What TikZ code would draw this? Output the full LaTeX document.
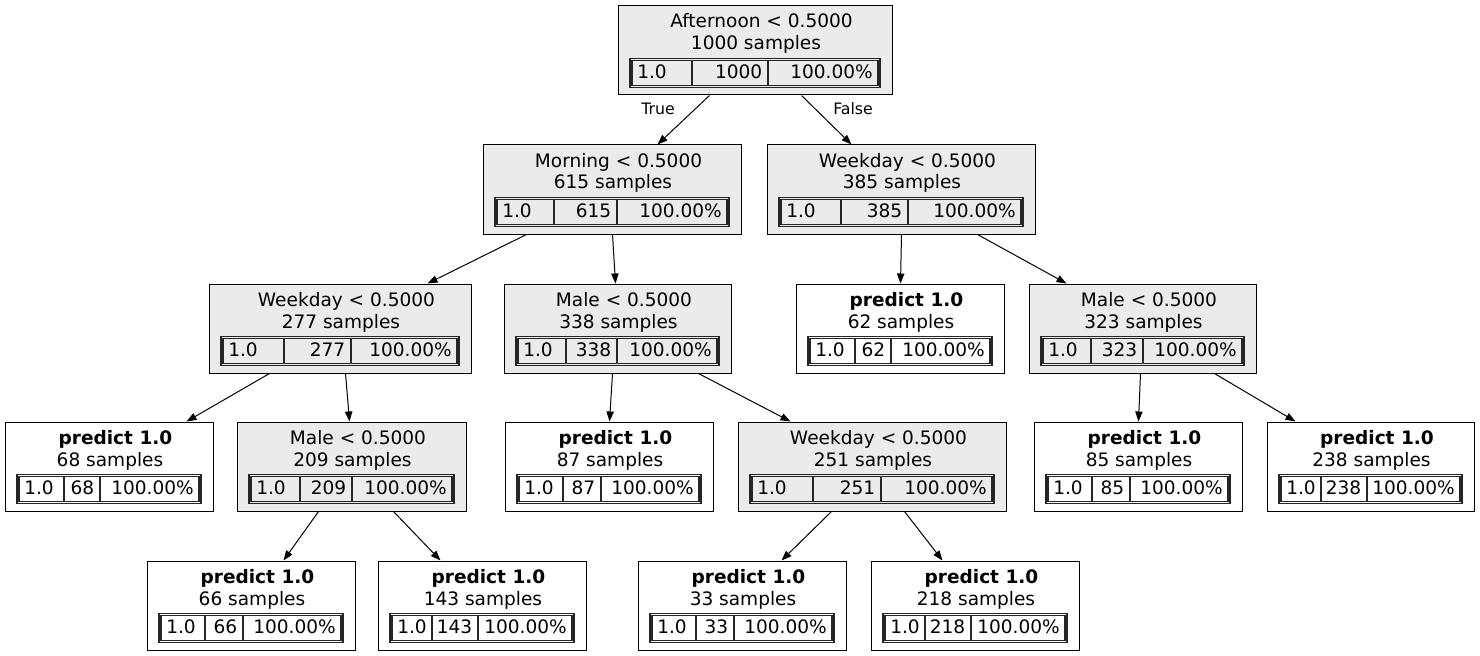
\documentclass[tikz,border=0pt]{standalone}
\usepackage{fontspec}
\setmainfont{DejaVu Sans}
\usetikzlibrary{arrows.meta,calc,fit}
\definecolor{splitfill}{RGB}{235,235,235}
\tikzset{
  x=0.75pt, y=-0.75pt,
  box/.style={draw=black, line width=0.75pt, inner sep=0pt},
  split/.style={box, fill=splitfill},
  leaf/.style={box, fill=white},
  txt/.style={inner sep=0pt, font=\fontsize{13.9}{16}\selectfont},
  tbl/.style={draw=black!85, line width=0.8pt},
  edge/.style={draw=black, line width=0.75pt, -{Triangle[length=7.5pt,width=5.5pt]}},
  elabel/.style={inner sep=0pt, font=\fontsize{11.8}{14}\selectfont},
}
% #1 name, #2 style, #3 left, #4 top, #5 right, #6 title, #7 samples, #8 sep1, #9 sep2
\newcommand\dtnode[9]{%
  \node[#2, fit={(#3,#4) (#5,#4+89)}] (#1) {};
  \node[txt, anchor=base] at ({(#3+#5)/2+6.5},#4+22) {#6};
  \node[txt, anchor=base] at ({(#3+#5)/2+1},#4+44) {#7 samples};
  \draw[tbl] (#3+12,#4+52.5) rectangle (#5-12,#4+81.5);
  \draw[tbl] (#3+14,#4+54.5) rectangle (#5-14,#4+79.5);
  \draw[tbl] (#8,#4+54.5) -- (#8,#4+79.5) (#9,#4+54.5) -- (#9,#4+79.5);
  \node[txt, anchor=base west] at (#3+19,#4+72.5) {1.0};
  \node[txt, anchor=base east] at (#9-5.5,#4+72.5) {#7};
  \node[txt, anchor=base east] at (#5-19,#4+72.5) {100.00\%};
}
\newcommand\dtedge[4]{\draw[edge] ($(#1.south west)+(#2,0)$) -- ($(#3.north west)+(#4,0)$);}
\newcommand\pr{\textbf{predict 1.0}}
\begin{document}
\begin{tikzpicture}
\useasboundingbox (0,0) rectangle (1480,656);
\dtnode{root}{split}{618}{6}{892}{Afternoon < 0.5000}{1000}{692}{768}
\dtnode{morning}{split}{483}{145}{741}{Morning < 0.5000}{615}{554}{617}
\dtnode{wdR}{split}{767}{145}{1035}{Weekday < 0.5000}{385}{841}{908}
\dtnode{wdL}{split}{209}{284}{471}{Weekday < 0.5000}{277}{284}{351}
\dtnode{maleA}{split}{504}{284}{731}{Male < 0.5000}{338}{566}{617}
\dtnode{pB}{leaf}{796}{284}{1004}{\pr}{62}{855}{891}
\dtnode{maleC}{split}{1029}{284}{1256}{Male < 0.5000}{323}{1091}{1143}
\dtnode{pD}{leaf}{5}{422}{213}{\pr}{68}{64}{100}
\dtnode{maleE}{split}{237}{422}{466}{Male < 0.5000}{209}{300}{352}
\dtnode{pF}{leaf}{505}{422}{713}{\pr}{87}{563}{601}
\dtnode{wdG}{split}{738}{422}{1006}{Weekday < 0.5000}{251}{813}{881}
\dtnode{pH}{leaf}{1034}{422}{1242}{\pr}{85}{1092}{1130}
\dtnode{pI}{leaf}{1267}{422}{1474}{\pr}{238}{1321}{1367}
\dtnode{pJ}{leaf}{147}{561}{355}{\pr}{66}{205}{243}
\dtnode{pK}{leaf}{378}{561}{586}{\pr}{143}{432}{478}
\dtnode{pL}{leaf}{638}{561}{846}{\pr}{33}{696}{734}
\dtnode{pM}{leaf}{871}{561}{1079}{\pr}{218}{925}{971}
\dtedge{root}{92}{morning}{175}
\dtedge{root}{184}{wdR}{85}
\dtedge{morning}{44}{wdL}{219}
\dtedge{morning}{130}{maleA}{112}
\dtedge{wdR}{135}{pB}{105}
\dtedge{wdR}{211}{maleC}{38}
\dtedge{wdL}{61}{pD}{182}
\dtedge{wdL}{137}{maleE}{113}
\dtedge{maleA}{109}{pF}{105}
\dtedge{maleA}{195}{wdG}{53}
\dtedge{maleC}{112}{pH}{105}
\dtedge{maleC}{186}{pI}{29}
\dtedge{maleE}{82}{pJ}{137}
\dtedge{maleE}{157}{pK}{63}
\dtedge{wdG}{94}{pL}{144}
\dtedge{wdG}{167}{pM}{72}
\node[elabel] (lt) at (658,109) {True};
\node[elabel] (lf) at (853,109) {False};
\end{tikzpicture}
\end{document}
